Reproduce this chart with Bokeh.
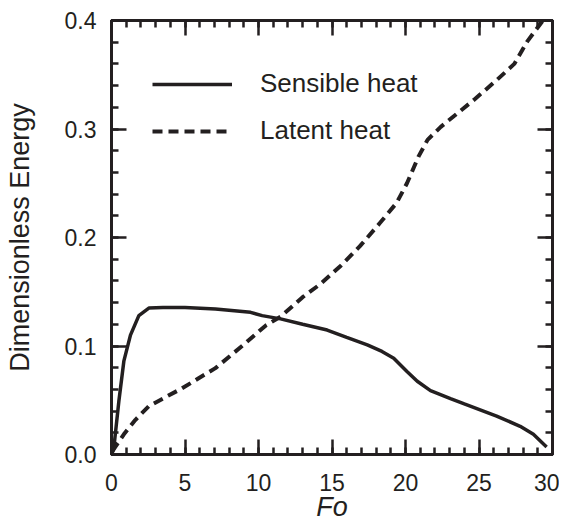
from bokeh.plotting import figure
from bokeh.models import (Range1d, LinearAxis, SingleIntervalTicker, PrintfTickFormatter,
                          Legend, LegendItem, ColumnDataSource)
from bokeh.embed import file_html
from bokeh.resources import INLINE

# ---- data ----
fo_sensible = [0.0, 0.15, 0.5, 0.84, 1.29, 1.86, 2.54, 3.5, 5.0, 7.07, 9.46, 10.25, 11.5, 13.0,
               14.67, 16.0, 17.4, 18.4, 19.2, 20.1, 20.8, 21.7, 23.06, 24.0, 26.2, 27.8, 28.7,
               29.6]
e_sensible = [0.0, 0.005, 0.049, 0.086, 0.110, 0.128, 0.135, 0.1355, 0.1355, 0.134, 0.131, 0.128,
              0.125, 0.120, 0.1147, 0.108, 0.101, 0.095, 0.0888, 0.0766, 0.0675, 0.0589, 0.0516,
              0.0467, 0.0354, 0.026, 0.0186, 0.007]

fo_latent = [0.05, 0.84, 1.63, 2.54, 4.8, 7.07, 9.1, 10.5, 11.5, 13.0, 14.2, 15.6, 16.9, 18.3,
             19.4, 20.1, 20.9, 21.5, 22.4, 24.65, 26.2, 27.4, 28.3, 29.4]
e_latent = [0.003, 0.0186, 0.032, 0.0446, 0.061, 0.0796, 0.1025, 0.119, 0.127, 0.145, 0.157,
            0.174, 0.192, 0.214, 0.232, 0.25, 0.275, 0.290, 0.302, 0.3268, 0.345, 0.36, 0.381,
            0.401]

series_names = ["Sensible heat", "Latent heat"]
x_ticks_interval = 5
y_ticks_interval = 0.1

INK = "#231f20"
FONT = "Liberation Sans"

p = figure(width=559, height=524, output_backend="svg", toolbar_location=None,
           x_range=Range1d(0, 30), y_range=Range1d(0, 0.4),
           min_border_left=111, min_border_right=7, min_border_top=20, min_border_bottom=67,
           x_axis_label="Fo", y_axis_label="Dimensionless Energy")

p.grid.visible = False
p.background_fill_color = "white"
p.border_fill_color = "white"
p.outline_line_color = INK
p.outline_line_width = 3
p.outline_line_alpha = 1.0

xt = SingleIntervalTicker(interval=x_ticks_interval, num_minor_ticks=5)
yt = SingleIntervalTicker(interval=y_ticks_interval, num_minor_ticks=5)

def style_axis(ax, labels=True):
    ax.axis_line_color = INK
    ax.axis_line_width = 3
    ax.major_tick_in = 15
    ax.major_tick_out = 0
    ax.minor_tick_in = 7
    ax.minor_tick_out = 0
    ax.major_tick_line_color = INK
    ax.minor_tick_line_color = INK
    ax.major_tick_line_width = 2.5
    ax.minor_tick_line_width = 2.5
    if labels:
        ax.major_label_text_font = FONT
        ax.major_label_text_font_size = "23px"
        ax.major_label_text_color = INK
    else:
        ax.major_label_text_font_size = "0px"
        ax.major_label_standoff = 0

xa = p.xaxis[0]
xa.ticker = xt
style_axis(xa)
xa.major_label_standoff = 19
xa.axis_label_text_font = FONT
xa.axis_label_text_font_size = "27px"
xa.axis_label_text_font_style = "italic"
xa.axis_label_text_color = INK
xa.axis_label_standoff = -2

ya = p.yaxis[0]
ya.ticker = yt
style_axis(ya)
ya.formatter = PrintfTickFormatter(format="%.1f")
ya.major_label_standoff = 15
ya.axis_label_text_font = FONT
ya.axis_label_text_font_size = "27px"
ya.axis_label_text_font_style = "normal"
ya.axis_label_text_color = INK
ya.axis_label_standoff = 27

top = LinearAxis(ticker=xt)
style_axis(top, labels=False)
p.add_layout(top, "above")
right = LinearAxis(ticker=yt)
style_axis(right, labels=False)
p.add_layout(right, "right")

src_s = ColumnDataSource(dict(x=fo_sensible, y=e_sensible))
src_l = ColumnDataSource(dict(x=fo_latent, y=e_latent))
r_s = p.line("x", "y", source=src_s, line_color=INK, line_width=3.5)
r_l = p.line("x", "y", source=src_l, line_color=INK, line_width=4, line_dash="10 6")

legend = Legend(items=[LegendItem(label=series_names[0], renderers=[r_s]),
                       LegendItem(label=series_names[1], renderers=[r_l])],
                location=(41, 308), orientation="vertical",
                glyph_width=80, glyph_height=24, label_height=24, label_standoff=28,
                spacing=16, padding=0, margin=0,
                border_line_color=None, background_fill_alpha=0,
                label_text_font=FONT, label_text_font_size="26px", label_text_color=INK)
p.add_layout(legend, "center")

open("out.html", "w").write(file_html(p, INLINE))
